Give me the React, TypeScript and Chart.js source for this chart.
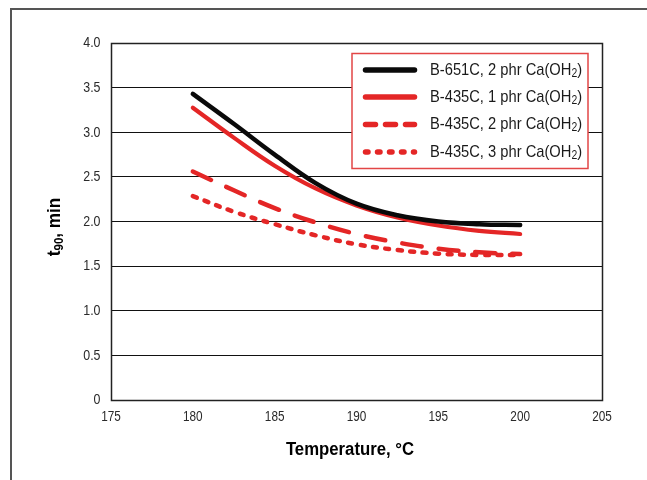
import { useEffect, useRef } from 'react';
import { Chart, registerables } from 'chart.js';

Chart.register(...registerables);

const temperatures = [180, 182.5, 185, 187.5, 190, 192.5, 195, 197.5, 200];
const b651c2phr = [3.43, 3.095, 2.75, 2.43, 2.2, 2.07, 2.0, 1.97, 1.96];
const b435c1phr = [3.275, 2.94, 2.625, 2.37, 2.18, 2.045, 1.955, 1.895, 1.86];
const b435c2phr = [2.56, 2.35, 2.15, 1.99, 1.86, 1.765, 1.695, 1.655, 1.635];
const b435c3phr = [2.285, 2.11, 1.97, 1.845, 1.745, 1.68, 1.64, 1.625, 1.625];

const seriesLabels = [
  'B-651C, 2 phr Ca(OH₂)',
  'B-435C, 1 phr Ca(OH₂)',
  'B-435C, 2 phr Ca(OH₂)',
  'B-435C, 3 phr Ca(OH₂)',
];
const xTicks = [175, 180, 185, 190, 195, 200, 205];
const yTicks = [0, 0.5, 1, 1.5, 2, 2.5, 3, 3.5, 4];
const xTitle = 'Temperature, °C';
const yTitleMain = 't';
const yTitleSub = '90';
const yTitleRest = ', min';

const FONT = "'Liberation Sans', Arial, sans-serif";
const RED = 'rgb(228,38,38)';
const BLACK = '#0a0a0a';

const styles = [
  { color: BLACK, width: 4.5, dash: [] as number[], legendDash: [] as number[] },
  { color: RED, width: 4.2, dash: [] as number[], legendDash: [] as number[] },
  { color: RED, width: 4.5, dash: [20, 17], legendDash: [10, 10] },
  { color: RED, width: 4.5, dash: [4, 8.5], legendDash: [2.5, 9.5] },
];

function fmtY(v: number) {
  return v === 0 ? '0' : v.toFixed(1);
}

function drawScaled(ctx: CanvasRenderingContext2D, text: string, x: number, y: number, font: string, sx: number, align: CanvasTextAlign) {
  ctx.save();
  ctx.translate(x, y);
  ctx.scale(sx, 1);
  ctx.font = font;
  ctx.textAlign = align;
  ctx.textBaseline = 'middle';
  ctx.fillText(text, 0, 0);
  ctx.restore();
}

function drawSubText(ctx: CanvasRenderingContext2D, text: string, x: number, y: number, size: number, sx: number) {
  const parts = text.split('₂');
  ctx.save();
  ctx.translate(x, y);
  ctx.scale(sx, 1);
  ctx.textAlign = 'left';
  ctx.textBaseline = 'middle';
  let cx = 0;
  parts.forEach((p, i) => {
    ctx.font = `${size}px ${FONT}`;
    ctx.fillText(p, cx, 0);
    cx += ctx.measureText(p).width;
    if (i < parts.length - 1) {
      ctx.font = `${Math.round(size * 0.68)}px ${FONT}`;
      ctx.fillText('2', cx, size * 0.2);
      cx += ctx.measureText('2').width;
    }
  });
  ctx.restore();
}

const decor = {
  id: 'decor',
  beforeDraw(chart: any) {
    const ctx: CanvasRenderingContext2D = chart.ctx;
    ctx.save();
    ctx.fillStyle = '#fff';
    ctx.fillRect(0, 0, chart.width, chart.height);
    ctx.strokeStyle = '#555';
    ctx.lineWidth = 2;
    ctx.beginPath();
    ctx.moveTo(11, chart.height + 5);
    ctx.lineTo(11, 9);
    ctx.lineTo(chart.width + 5, 9);
    ctx.stroke();
    ctx.restore();
  },
  afterDatasetsDraw(chart: any) {
    const ctx: CanvasRenderingContext2D = chart.ctx;
    const a = chart.chartArea;
    const xs = chart.scales.x;
    const ys = chart.scales.y;
    ctx.save();
    ctx.strokeStyle = '#222';
    ctx.lineWidth = 1.5;
    ctx.strokeRect(a.left + 0.5, a.top + 0.5, a.right - a.left, a.bottom - a.top);

    // tick labels
    ctx.fillStyle = '#2a2a2a';
    const tickFont = `15.5px ${FONT}`;
    xTicks.forEach((v) => {
      drawScaled(ctx, String(v), xs.getPixelForValue(v), a.bottom + 16.5, tickFont, 0.76, 'center');
    });
    yTicks.forEach((v) => {
      drawScaled(ctx, fmtY(v), a.left - 10.5, ys.getPixelForValue(v), tickFont, 0.8, 'right');
    });

    // legend
    const lx = 352, ly = 53.5, lw = 236, lh = 115;
    ctx.fillStyle = '#fff';
    ctx.fillRect(lx, ly, lw, lh);
    ctx.strokeStyle = 'rgb(226,70,70)';
    ctx.lineWidth = 1.5;
    ctx.strokeRect(lx, ly, lw, lh);
    const rows = [70, 97, 124.5, 152];
    seriesLabels.forEach((label, i) => {
      const s = styles[i];
      const y = rows[i];
      ctx.strokeStyle = s.color;
      ctx.lineWidth = 5.5;
      ctx.lineCap = 'round';
      ctx.setLineDash(s.legendDash);
      ctx.beginPath();
      ctx.moveTo(365.5, y);
      ctx.lineTo(414.5, y);
      ctx.stroke();
      ctx.setLineDash([]);
      ctx.fillStyle = '#1a1a1a';
      drawSubText(ctx, label, 430, y, 17, 0.865);
    });

    // x title
    ctx.fillStyle = '#000';
    drawScaled(ctx, xTitle, 350, 450, `bold 18px ${FONT}`, 0.93, 'center');

    // y title
    ctx.save();
    ctx.translate(55, 227);
    ctx.rotate(-Math.PI / 2);
    ctx.scale(0.95, 1);
    ctx.textAlign = 'left';
    ctx.textBaseline = 'middle';
    ctx.font = `bold 18px ${FONT}`;
    const w1 = ctx.measureText(yTitleMain).width;
    const w3 = ctx.measureText(yTitleRest).width;
    ctx.font = `bold 12px ${FONT}`;
    const w2 = ctx.measureText(yTitleSub).width;
    let cx = -(w1 + w2 + w3) / 2;
    ctx.font = `bold 18px ${FONT}`;
    ctx.fillText(yTitleMain, cx, 0);
    cx += w1;
    ctx.font = `bold 12px ${FONT}`;
    ctx.fillText(yTitleSub, cx, 4.5);
    cx += w2;
    ctx.font = `bold 18px ${FONT}`;
    ctx.fillText(yTitleRest, cx, 0);
    ctx.restore();

    ctx.restore();
  },
};

export default function App() {
  const ref = useRef<HTMLCanvasElement>(null);
  useEffect(() => {
    if (!ref.current) return;
    const series = [b651c2phr, b435c1phr, b435c2phr, b435c3phr];
    const chart = new Chart(ref.current, {
      type: 'line',
      data: {
        datasets: series.map((vals, i) => ({
          label: seriesLabels[i],
          data: vals.map((v, j) => ({ x: temperatures[j], y: v })),
          borderColor: styles[i].color,
          borderWidth: styles[i].width,
          borderDash: styles[i].dash,
          borderCapStyle: 'round' as const,
          borderJoinStyle: 'round' as const,
          pointRadius: 0,
          fill: false,
          tension: 0.4,
        })),
      },
      options: {
        animation: false,
        responsive: false,
        devicePixelRatio: 1,
        layout: { padding: { left: 0, top: 43, right: 45, bottom: 0 } },
        plugins: { legend: { display: false }, tooltip: { enabled: false } },
        scales: {
          x: {
            type: 'linear',
            min: 175,
            max: 205,
            afterBuildTicks: (s: any) => { s.ticks = xTicks.map((v) => ({ value: v })); },
            afterFit: (s: any) => { s.height = 80; },
            grid: { display: false, drawTicks: false },
            border: { display: false },
            ticks: { display: false },
          },
          y: {
            type: 'linear',
            min: 0,
            max: 4,
            afterBuildTicks: (s: any) => { s.ticks = yTicks.map((v) => ({ value: v })); },
            afterFit: (s: any) => { s.width = 111; },
            grid: { color: '#111', lineWidth: 1, drawTicks: false },
            border: { display: false },
            ticks: { display: false },
          },
        },
      },
      plugins: [decor],
    });
    return () => chart.destroy();
  }, []);
  return (
    <div style={{ position: 'fixed', left: 0, top: 0, width: 647, height: 480 }}>
      <canvas ref={ref} width={647} height={480} />
    </div>
  );
}
